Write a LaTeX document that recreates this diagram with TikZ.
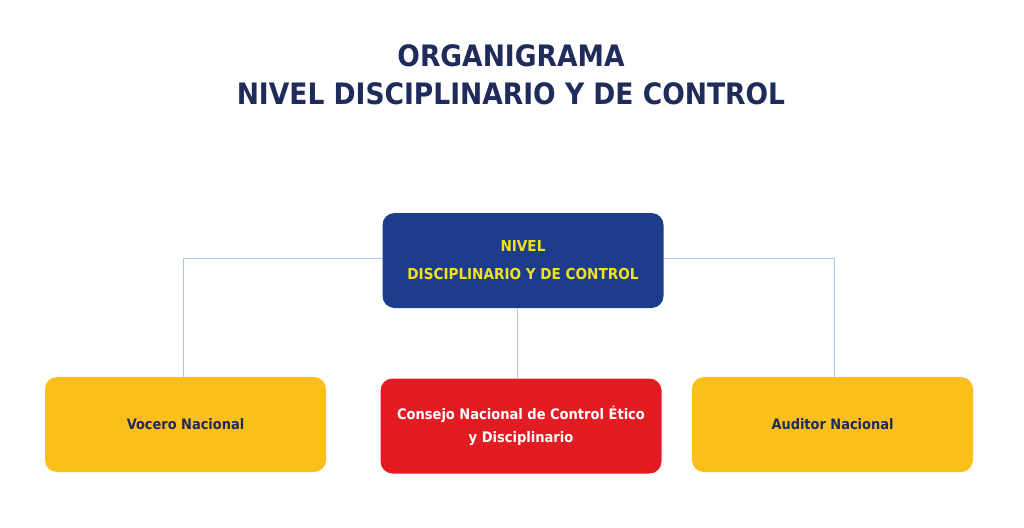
\documentclass[tikz,border=0pt]{standalone}
\usepackage{fontspec}
\setmainfont{DejaVu Sans Condensed}
\usetikzlibrary{positioning}

\definecolor{tituloNavy}{HTML}{1F2B5B}
\definecolor{nivelBlue}{HTML}{1D3C8B}
\definecolor{nivelYellow}{HTML}{F2E21A}
\definecolor{cargoOrange}{HTML}{FBBF1B}
\definecolor{consejoRed}{HTML}{E31B23}
\definecolor{linkBlue}{HTML}{A9C9EA}

\begin{document}
\begin{tikzpicture}
[x=1pt,y=-1pt,
  boxDecorate/.style={shape=rectangle,rounded corners=12pt,minimum width=281pt,minimum height=95pt,align=center,inner sep=0pt},
  cargoDecorate/.style={boxDecorate,fill=cargoOrange,text=tituloNavy,font=\bfseries\fontsize{14.4}{20}\selectfont},
  lineDecorate/.style={-,draw=linkBlue,line width=1pt}]
\useasboundingbox[fill=white] (0,0) rectangle (1024,527);
%% title
\node (titulo) at (511,74.5) [align=center,text=tituloNavy,font=\bfseries\fontsize{29.5}{38}\selectfont]
  {ORGANIGRAMA\\NIVEL DISCIPLINARIO Y DE CONTROL};
%% nodes or boxes
\node (nivel) at (523,260.5) [boxDecorate,fill=nivelBlue,text=nivelYellow,font=\bfseries\fontsize{15.1}{28}\selectfont]
  {NIVEL\\DISCIPLINARIO Y DE CONTROL};
\foreach \nodename/\x/\label in {
  vocero/185.5/Vocero Nacional, auditor/832.5/Auditor Nacional}
{
  \node (\nodename) at (\x,424.5) [cargoDecorate] {\label};
}
\node (consejo) at (521,426) [boxDecorate,fill=consejoRed,text=white,font=\bfseries\fontsize{14.5}{23}\selectfont]
  {Consejo Nacional de Control Ético\\y Disciplinario};
%% edges or lines
\draw[lineDecorate] ([yshift=2pt]nivel.west) -| ([xshift=-2.5pt]vocero.north);
\draw[lineDecorate] ([yshift=2pt]nivel.east) -| ([xshift=1.5pt]auditor.north);
\draw[lineDecorate] ([xshift=-6pt]nivel.south) coordinate (m) -- (m |- consejo.north);
\end{tikzpicture}
\end{document}
